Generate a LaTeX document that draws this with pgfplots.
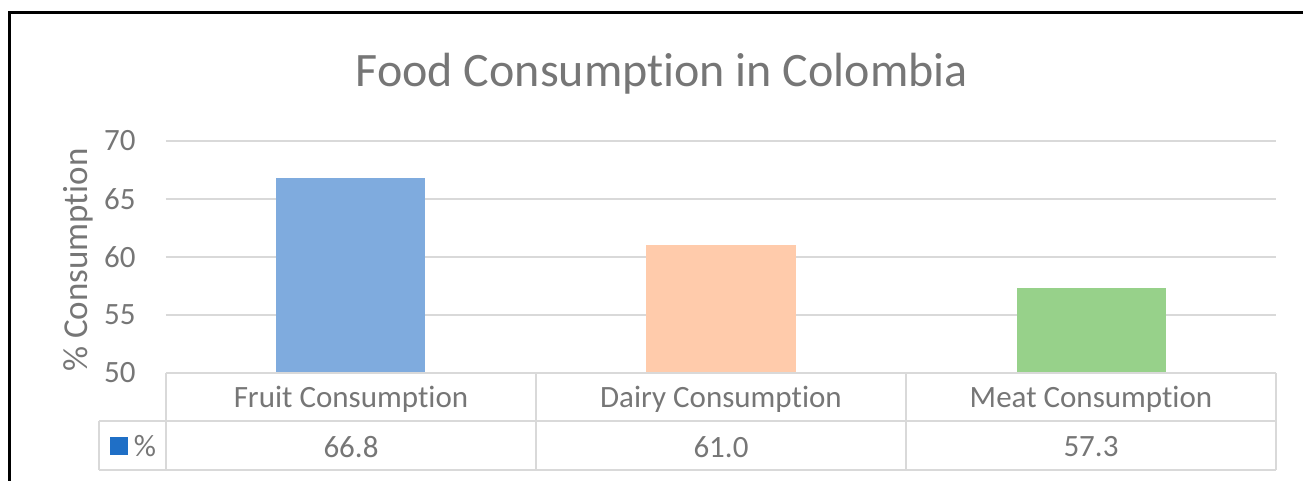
\documentclass[border=0pt]{standalone}
\usepackage{pgfplots}
\pgfplotsset{compat=1.18}
\usepackage{fontspec}
\setmainfont{Carlito}[Ligatures=NoCommon]

\definecolor{txt}{HTML}{767676}
\definecolor{gridc}{HTML}{D9D9D9}
\definecolor{fruit}{HTML}{7FABDE}
\definecolor{dairy}{HTML}{FFCBAB}
\definecolor{meat}{HTML}{97D18A}
\definecolor{keyblue}{HTML}{1F6FC6}

\begin{document}
\begin{tikzpicture}[x=1pt,y=1pt]
\useasboundingbox (0,0) rectangle (651.5,240.5);
% chart frame (only top and left edges visible)
\draw[line width=1.5pt] (4.5,0) -- (4.5,234) -- (651.5,234);

\begin{axis}[
    at={(83pt,54pt)}, anchor=south west,
    scale only axis, width=555pt, height=116pt,
    xmin=-0.5, xmax=2.5, ymin=50, ymax=70,
    ytick={50,55,60,65,70},
    /pgf/number format/assume math mode=true,
    xtick={0,1,2},
    xticklabels={Fruit Consumption,Dairy Consumption,Meat Consumption},
    extra x ticks={0,1,2},
    extra x tick labels={66.8,61.0,57.3},
    extra x tick style={xticklabel style={yshift=-24pt}},
    ymajorgrids,
    grid style={gridc, line width=1.3pt},
    axis line style={draw=none},
    major tick length=0pt,
    tick label style={text=txt, font=\fontsize{15.5}{18}\selectfont, inner sep=0pt},
    yticklabel style={anchor=east, xshift=-15pt},
    xticklabel style={anchor=center, yshift=-13pt},
    ylabel={\% Consumption},
    ylabel style={text=txt, font=\fontsize{17.5}{20}\selectfont,
        at={(axis description cs:-0.0793,0.487)}, anchor=center},
    title={Food Consumption in Colombia},
    title style={text=txt, font=\fontsize{24}{28}\selectfont,
        at={(axis description cs:0.4468,1.1853)}, anchor=base},
    ybar, bar width=74.5pt,
    clip=false,
]
\addplot[fill=fruit, draw=none, bar shift=0pt] coordinates {(0,66.8)};
\addplot[fill=dairy, draw=none, bar shift=0pt] coordinates {(1,61.0)};
\addplot[fill=meat, draw=none, bar shift=0pt] coordinates {(2,57.3)};
\end{axis}

% data table grid
\begin{scope}[gridc, line width=1.3pt]
\draw (83,54) -- (638,54);
\draw (49.5,30) -- (638,30);
\draw (49.5,5.5) -- (638,5.5);
\draw (83,5.5) -- (83,54);
\draw (268,5.5) -- (268,54);
\draw (453,5.5) -- (453,54);
\draw (638,5.5) -- (638,54);
\draw (49.5,5.5) -- (49.5,30);
\end{scope}
\fill[keyblue] (55,13) rectangle (64,22);
\node[text=txt, font=\fontsize{15.5}{18}\selectfont, inner sep=0pt] at (72.5,17.5) {\%};
\end{tikzpicture}
\end{document}
